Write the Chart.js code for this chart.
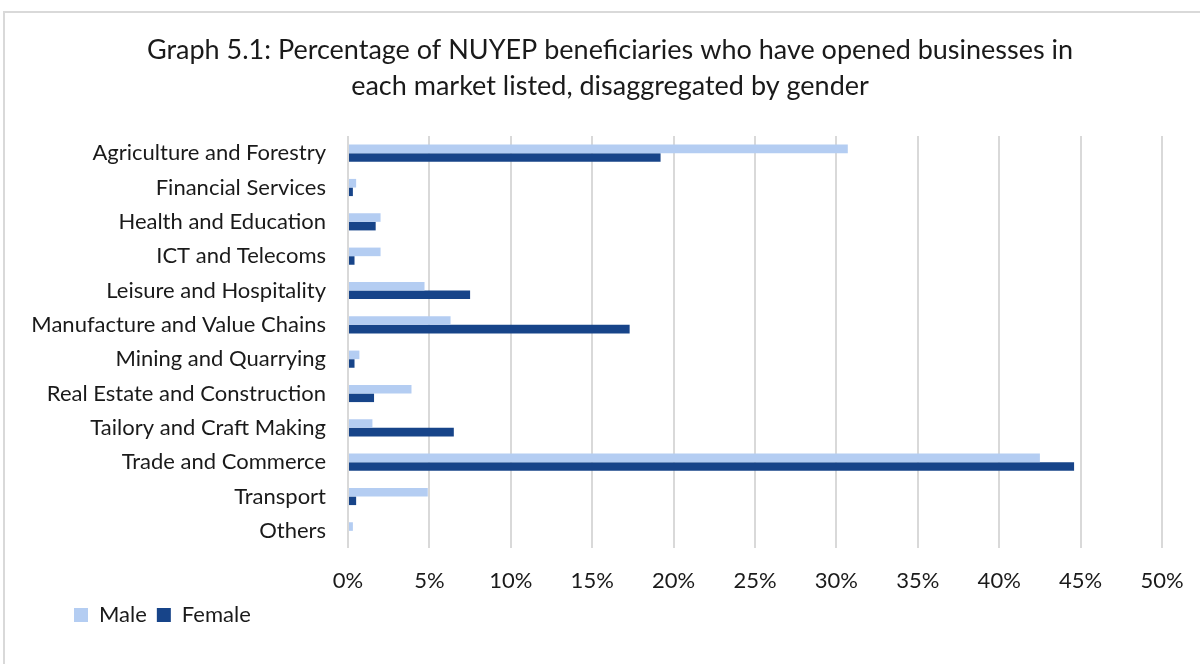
<!DOCTYPE html>
<html>
<head>
<meta charset="utf-8">
<script src="https://cdn.jsdelivr.net/npm/chart.js@4.4.0/dist/chart.umd.min.js"></script>
<style>
  html, body { margin: 0; padding: 0; background: #fff; }
  #wrap { position: relative; width: 1200px; height: 664px; overflow: hidden; }
  #frame { position: absolute; left: 3px; top: 11px; width: 1300px; height: 800px; border-left: 2px solid #d9d9d9; border-top: 2px solid #d9d9d9; box-sizing: border-box; }
  canvas { position: absolute; left: 0; top: 0; }
</style>
</head>
<body>
<div id="wrap">
  <div id="frame"></div>
  <canvas id="c" width="1200" height="664"></canvas>
</div>
<script>
const categories = [
  "Agriculture and Forestry",
  "Financial Services",
  "Health and Education",
  "ICT and Telecoms",
  "Leisure and Hospitality",
  "Manufacture and Value Chains",
  "Mining and Quarrying",
  "Real Estate and Construction",
  "Tailory and Craft Making",
  "Trade and Commerce",
  "Transport",
  "Others"
];
const maleValues   = [30.7, 0.5, 2.0, 2.0, 4.7, 6.3, 0.7, 3.9, 1.5, 42.5, 4.9, 0.3];
const femaleValues = [19.2, 0.3, 1.7, 0.4, 7.5, 17.3, 0.4, 1.6, 6.5, 44.6, 0.5, 0];
const titleLines = [
  "Graph 5.1: Percentage of NUYEP beneficiaries who have opened businesses in",
  "each market listed, disaggregated by gender"
];
const xMin = 0, xMax = 50, xStep = 5;

const FONT = "Lato, 'Noto Sans', sans-serif";
const TEXT = "#1a1a1a";

const shiftBlocks = {
  id: 'shiftBlocks',
  afterLayout(chart) {
    const t = chart.titleBlock;
    if (t) { t.left += 19; t.right += 19; }
    const l = chart.legend;
    if (l) { l.left += 44; l.right += 44; }
  }
};

new Chart(document.getElementById('c'), {
  type: 'bar',
  data: {
    labels: categories,
    datasets: [
      { label: 'Male', data: maleValues, backgroundColor: '#b4cdf2', borderWidth: 0 },
      { label: 'Female', data: femaleValues, backgroundColor: '#174489', borderWidth: 0 }
    ]
  },
  plugins: [shiftBlocks],
  options: {
    indexAxis: 'y',
    responsive: false,
    animation: false,
    layout: { padding: { left: 20, right: 38, top: 32, bottom: 28 } },
    datasets: { bar: { categoryPercentage: 0.5, barPercentage: 1.0 } },
    scales: {
      x: {
        min: xMin, max: xMax,
        ticks: { stepSize: xStep, color: TEXT, font: { family: FONT, size: 22 }, padding: 20,
          callback: v => v + '%' },
        grid: { color: '#d9d9d9', lineWidth: 2, drawTicks: false },
        border: { display: false },
        afterFit: s => { s.height = 46; s.paddingRight = 0; s.paddingLeft = 0; }
      },
      y: {
        ticks: { color: TEXT, font: { family: FONT, size: 22 }, padding: 22 },
        grid: { display: false, drawTicks: false },
        border: { display: false },
        afterFit: s => { s.width = 328; }
      }
    },
    plugins: {
      title: {
        display: true, text: titleLines, color: TEXT,
        font: { family: FONT, size: 27, weight: 'normal', lineHeight: 1.3334 },
        padding: { top: 0, bottom: 32 }
      },
      legend: {
        position: 'bottom', align: 'start',
        labels: { color: TEXT, font: { family: FONT, size: 22 }, boxWidth: 14, boxHeight: 14, padding: 10 }
      },
      tooltip: { enabled: false }
    }
  }
});
</script>
</body>
</html>
